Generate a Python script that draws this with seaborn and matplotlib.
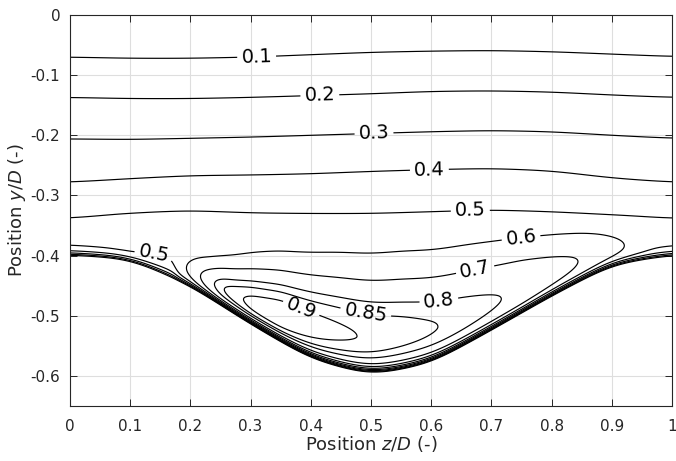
import numpy as np
import matplotlib
matplotlib.use("Agg")
import matplotlib.pyplot as plt
import seaborn as sns

# ---------------------------------------------------------------------------
# Data
# ---------------------------------------------------------------------------
# Lower wall of the channel, y/D at stations z/D
wall_z = [0.0, 0.1, 0.2, 0.3, 0.4, 0.5, 0.6, 0.7, 0.8, 0.9, 1.0]
wall_y = [-0.400, -0.407, -0.451, -0.515, -0.573, -0.600, -0.580, -0.525, -0.468, -0.416, -0.400]

# Heights of the outer iso-lines (values 0.1 ... 0.5) at stations z/D
outer_z = [0.0, 0.1, 0.2, 0.3, 0.4, 0.5, 0.6, 0.7, 0.8, 0.9, 1.0]
iso_01 = [-0.070, -0.072, -0.072, -0.070, -0.066, -0.062, -0.060, -0.059, -0.061, -0.065, -0.069]
iso_02 = [-0.137, -0.139, -0.139, -0.137, -0.134, -0.131, -0.127, -0.126, -0.128, -0.133, -0.137]
iso_03 = [-0.206, -0.207, -0.205, -0.203, -0.200, -0.197, -0.194, -0.192, -0.194, -0.200, -0.205]
iso_04 = [-0.278, -0.272, -0.267, -0.266, -0.264, -0.260, -0.257, -0.255, -0.259, -0.271, -0.278]
iso_05 = [-0.338, -0.329, -0.325, -0.329, -0.330, -0.330, -0.327, -0.324, -0.327, -0.332, -0.338]
outer_values = [0.1, 0.2, 0.3, 0.4, 0.5]

# Core flow below the outer layer: value reached far below the 0.5 line, approach depth
core_value = 0.542
core_depth = 0.03

# Near-wall jet: excess amplitude, height of its maximum above the wall, thickness
jet_z = [0.15, 0.18, 0.20, 0.22, 0.25, 0.30, 0.35, 0.45, 0.55, 0.65, 0.75, 0.85, 0.92, 0.97]
jet_amp = [0.0, 0.02, 0.09, 0.19, 0.315, 0.38, 0.402, 0.367, 0.334, 0.292, 0.243, 0.16, 0.075, 0.0]
jet_centre = [0.02, 0.02, 0.022, 0.022, 0.025, 0.03, 0.045, 0.058, 0.06, 0.048, 0.038, 0.032, 0.025, 0.02]
jet_width = [0.03, 0.03, 0.03, 0.03, 0.04, 0.07, 0.08, 0.105, 0.11, 0.10, 0.078, 0.055, 0.035, 0.03]
jet_width_below = 0.07

# Slow pocket upstream of the jet (deficit amplitude along z)
pocket_z = [0.08, 0.10, 0.13, 0.16, 0.172, 0.182]
pocket_amp = [0.0, 0.008, 0.04, 0.08, 0.085, 0.0]
pocket_height = 0.04

wall_layer = 0.0065

contour_levels = [0.1, 0.2, 0.3, 0.4, 0.5, 0.6, 0.7, 0.8, 0.85, 0.9]

# Label anchor points (z/D, y/D) for each contour value
label_spots = {
    0.1: [(0.31, -0.069)],
    0.2: [(0.415, -0.133)],
    0.3: [(0.505, -0.197)],
    0.4: [(0.597, -0.258)],
    0.5: [(0.665, -0.326), (0.14, -0.390)],
    0.6: [(0.75, -0.377)],
    0.7: [(0.675, -0.434)],
    0.8: [(0.613, -0.477)],
    0.85: [(0.49, -0.502)],
    0.9: [(0.38, -0.498)],
}

x_ticks = [0.0, 0.1, 0.2, 0.3, 0.4, 0.5, 0.6, 0.7, 0.8, 0.9, 1.0]
x_tick_labels = ["0", "0.1", "0.2", "0.3", "0.4", "0.5", "0.6", "0.7", "0.8", "0.9", "1"]
y_ticks = [0.0, -0.1, -0.2, -0.3, -0.4, -0.5, -0.6]
y_tick_labels = ["0", "-0.1", "-0.2", "-0.3", "-0.4", "-0.5", "-0.6"]


# ---------------------------------------------------------------------------
# Field on a grid
# ---------------------------------------------------------------------------
def smooth_curve(zs, vals, grid, width):
    lin = np.interp(grid, zs, vals)
    dz = grid[1] - grid[0]
    n = int(3 * width / dz)
    kern = np.exp(-0.5 * (np.arange(-n, n + 1) * dz / width) ** 2)
    kern /= kern.sum()
    return np.convolve(np.pad(lin, n, mode="edge"), kern, mode="valid")


z = np.linspace(0.0, 1.0, 801)
y = np.linspace(-0.65, 0.0, 1301)

yw = smooth_curve(wall_z, wall_y, z, 0.03)
iso_rows = [smooth_curve(outer_z, r, z, 0.03) for r in (iso_05, iso_04, iso_03, iso_02, iso_01)]
amp = smooth_curve(jet_z, jet_amp, z, 0.01)
cen = smooth_curve(jet_z, jet_centre, z, 0.04)
wid = smooth_curve(jet_z, jet_width, z, 0.04)
pocket = smooth_curve(pocket_z, pocket_amp, z, 0.005)

# the jet is confined below the outer layer
taper = np.clip((-0.330 - y) / 0.035, 0.0, 1.0)
taper = taper * taper * (3 - 2 * taper)

field = np.empty((y.size, z.size))
for j in range(z.size):
    heights = [r[j] for r in iso_rows] + [0.0]
    values = outer_values[::-1] + [0.0]
    base = np.interp(y, heights, values)
    below = y < heights[0]
    base[below] = 0.5 + (core_value - 0.5) * (1 - np.exp(-(heights[0] - y[below]) / core_depth))
    d = y - yw[j]
    w = np.where(d < cen[j], jet_width_below, wid[j])
    jet = amp[j] * np.exp(-((d - cen[j]) / w) ** 2) * taper
    slow = pocket[j] * np.exp(-(np.clip(d, 0, None) / pocket_height) ** 2)
    damp = 1.0 - np.exp(-np.clip(d, 0, None) / wall_layer)
    col = (base + jet - slow) * damp
    col[d < 0] = np.nan
    field[:, j] = col

field = np.ma.masked_invalid(field)

# ---------------------------------------------------------------------------
# Figure
# ---------------------------------------------------------------------------
sns.set_style("white")
plt.rcParams.update({
    "font.family": ["DejaVu Sans"],
    "mathtext.fontset": "dejavusans",
    "xtick.direction": "in",
    "ytick.direction": "in",
    "xtick.top": True,
    "ytick.right": True,
    "xtick.bottom": True,
    "ytick.left": True,
})

fig = plt.figure(figsize=(6.76, 4.61), dpi=100)
ax = fig.add_axes([70 / 676, 1 - 406 / 461, 602 / 676, 391 / 461])

for lev in contour_levels:
    cs = ax.contour(z, y, field, levels=[lev], colors="black", linewidths=0.85)
    cs.clabel(manual=label_spots[lev], inline=True, inline_spacing=4,
              fontsize=14, fmt=lambda v: f"{v:g}")

ax.set_xlim(0, 1)
ax.set_ylim(-0.65, 0)
ax.set_xticks(x_ticks)
ax.set_xticklabels(x_tick_labels)
ax.set_yticks(y_ticks)
ax.set_yticklabels(y_tick_labels)
ax.tick_params(axis="x", which="major", pad=9)
ax.tick_params(axis="y", which="major", pad=7)
ax.tick_params(axis="both", which="major", length=5, width=0.7, colors="#262626",
               labelsize=11, labelcolor="#262626")
ax.grid(True, color="#dedede", linewidth=0.8)
ax.set_axisbelow(True)
for sp in ax.spines.values():
    sp.set_visible(True)
    sp.set_color("#262626")
    sp.set_linewidth(0.8)

ax.set_xlabel("Position $z/D$ (-)", fontsize=13, color="#262626", labelpad=0)
ax.set_ylabel("Position $y/D$ (-)", fontsize=13, color="#262626", labelpad=2)

fig.savefig("out.png", dpi=100)
